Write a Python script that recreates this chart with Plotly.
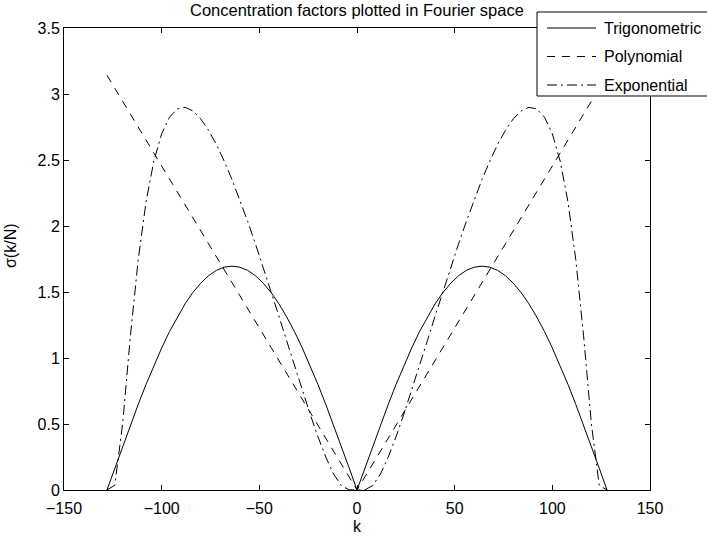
import plotly.graph_objects as go

# k values (N = 128), step 4
k = list(range(-128, 129, 4))

trig_half = [0, 0.166, 0.331, 0.492, 0.649, 0.800, 0.943, 1.076, 1.200, 1.311, 1.411,
             1.496, 1.567, 1.623, 1.664, 1.688, 1.696, 1.688, 1.664, 1.623, 1.567, 1.496,
             1.411, 1.311, 1.200, 1.076, 0.943, 0.800, 0.649, 0.492, 0.331, 0.166, 0]
trigonometric = trig_half + trig_half[1:]

polynomial = [3.142, 3.043, 2.945, 2.847, 2.749, 2.651, 2.553, 2.454, 2.356, 2.258, 2.160,
              2.062, 1.963, 1.865, 1.767, 1.669, 1.571, 1.473, 1.374, 1.276, 1.178, 1.080,
              0.982, 0.884, 0.785, 0.687, 0.589, 0.491, 0.393, 0.295, 0.196, 0.098, 0,
              0.098, 0.196, 0.295, 0.393, 0.491, 0.589, 0.687, 0.785, 0.884, 0.982, 1.080,
              1.178, 1.276, 1.374, 1.473, 1.571, 1.669, 1.767, 1.865, 1.963, 2.062, 2.160,
              2.258, 2.356, 2.454, 2.553, 2.651, 2.749, 2.847, 2.945, 3.043, 3.142]

exponential = [0, 0.036, 0.500, 1.168, 1.746, 2.183, 2.492, 2.699, 2.824, 2.887, 2.899,
               2.872, 2.812, 2.725, 2.618, 2.492, 2.352, 2.199, 2.036, 1.865, 1.687, 1.504,
               1.318, 1.130, 0.942, 0.756, 0.575, 0.404, 0.250, 0.121, 0.033, 0.001, 0,
               0.001, 0.033, 0.121, 0.250, 0.404, 0.575, 0.756, 0.942, 1.130, 1.318, 1.504,
               1.687, 1.865, 2.036, 2.199, 2.352, 2.492, 2.618, 2.725, 2.812, 2.872, 2.899,
               2.887, 2.824, 2.699, 2.492, 2.183, 1.746, 1.168, 0.500, 0.036, 0]

series_names = ["Trigonometric", "Polynomial", "Exponential"]
dashes = ["solid", "8px,7px", "10px,4px,2px,4px"]

FONT = "Liberation Sans, Arial, Helvetica, sans-serif"

fig = go.Figure()
for name, y, d in zip(series_names, [trigonometric, polynomial, exponential], dashes):
    fig.add_trace(go.Scatter(x=k, y=y, mode="lines", name=name, showlegend=False,
                             line=dict(color="black", width=1, dash=d)))

# plot area in pixels: x 64..650, y 28..490
L, R, T, B = 64, 650, 28, 490
W, H = R - L, B - T
def px(x):
    return (x - L) / W
def py(y):
    return (B - y) / H

shapes = [dict(type="rect", xref="paper", yref="paper", x0=px(537), x1=px(720),
               y0=py(96), y1=py(12), line=dict(color="black", width=1),
               fillcolor="white", layer="above")]
annotations = []
rows = [28, 56.5, 85]
for name, d, r in zip(series_names, dashes, rows):
    shapes.append(dict(type="line", xref="paper", yref="paper", x0=px(547), x1=px(596),
                       y0=py(r), y1=py(r), line=dict(color="black", width=1, dash=d),
                       layer="above"))
    annotations.append(dict(text=name, xref="paper", yref="paper", x=px(602), y=py(r),
                            xanchor="left", yanchor="middle", showarrow=False,
                            font=dict(family=FONT, size=16, color="black")))

annotations.append(dict(text="Concentration factors plotted in Fourier space", xref="paper",
                        yref="paper", x=0.5, y=py(10), xanchor="center", yanchor="middle",
                        showarrow=False, font=dict(family=FONT, size=16.5, color="black")))
annotations.append(dict(text="k", xref="paper", yref="paper", x=0.5, y=py(526),
                        xanchor="center", yanchor="middle", showarrow=False,
                        font=dict(family=FONT, size=16, color="black")))
annotations.append(dict(text="σ(k/N)", xref="paper", yref="paper", x=px(10), y=py(246),
                        xanchor="center", yanchor="middle", showarrow=False, textangle=-90,
                        font=dict(family=FONT, size=16, color="black")))

axis_common = dict(showline=True, linecolor="black", linewidth=1, mirror="ticks",
                   ticks="inside", ticklen=5, tickcolor="black", tickwidth=1,
                   showgrid=False, zeroline=False,
                   tickfont=dict(family=FONT, size=16, color="black"))

fig.update_layout(
    width=707, height=536,
    margin=dict(l=L, r=707 - R, t=T, b=536 - B),
    paper_bgcolor="white", plot_bgcolor="white",
    xaxis=dict(range=[-150, 150], tickmode="linear", tick0=-150, dtick=50,
               ticklabelstandoff=4, **axis_common),
    yaxis=dict(range=[0, 3.5], tickmode="linear", tick0=0, dtick=0.5, **axis_common),
    shapes=shapes, annotations=annotations,
)

fig.write_html("out.html")
